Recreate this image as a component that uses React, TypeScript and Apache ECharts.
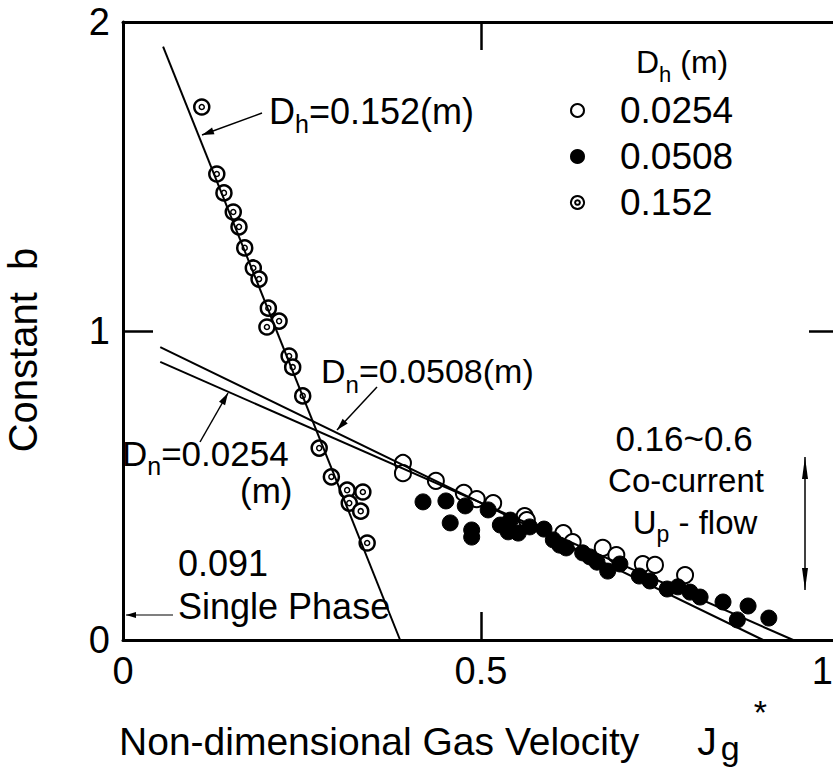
import React, { useEffect, useRef } from "react";
import * as echarts from "echarts";

// ---------- data ----------
const seriesNames = ["0.0254", "0.0508", "0.152"];

// Dh = 0.0254 m (open circles): [Jg*, b]
const open0254: [number, number][] = [
  [0.391, 0.573], [0.391, 0.540], [0.437, 0.515], [0.476, 0.476], [0.494, 0.456],
  [0.517, 0.443], [0.561, 0.401], [0.564, 0.388], [0.615, 0.346], [0.628, 0.317],
  [0.670, 0.298], [0.689, 0.275], [0.726, 0.246], [0.743, 0.243], [0.785, 0.210],
];

// Dh = 0.0508 m (filled circles)
const filled0508: [number, number][] = [
  [0.419, 0.447], [0.451, 0.450], [0.478, 0.434], [0.510, 0.421], [0.457, 0.379],
  [0.487, 0.356], [0.487, 0.333], [0.527, 0.372], [0.541, 0.388], [0.538, 0.350],
  [0.552, 0.346], [0.568, 0.366], [0.588, 0.359], [0.601, 0.324], [0.610, 0.307],
  [0.619, 0.298], [0.642, 0.282], [0.652, 0.269], [0.662, 0.252], [0.677, 0.223],
  [0.694, 0.246], [0.721, 0.207], [0.736, 0.191], [0.760, 0.165], [0.775, 0.172],
  [0.792, 0.155], [0.806, 0.139], [0.838, 0.123], [0.858, 0.065], [0.873, 0.110],
  [0.902, 0.071],
];

// Dh = 0.152 m (double circles)
const ring152: [number, number][] = [
  [0.110, 1.725], [0.131, 1.508], [0.141, 1.447], [0.154, 1.385], [0.162, 1.337],
  [0.170, 1.269], [0.182, 1.204], [0.190, 1.168], [0.203, 1.074], [0.218, 1.032],
  [0.201, 1.013], [0.232, 0.919], [0.237, 0.883], [0.251, 0.790], [0.274, 0.621],
  [0.291, 0.528], [0.313, 0.485], [0.335, 0.479], [0.316, 0.443], [0.332, 0.417],
  [0.341, 0.314],
];

// fitted lines (end points)
const line0254: [number, number][] = [[0.052, 0.900], [0.936, 0.0]];
const line0508: [number, number][] = [[0.052, 0.948], [0.894, 0.0]];
const line152: [number, number][] = [[0.056, 1.920], [0.387, 0.0]];

const xTickLabels = ["0", "0.5", "1"];
const yTickLabels = ["0", "1", "2"];

// ---------- styling ----------
const FONT = "'Liberation Sans', Arial, Helvetica, sans-serif";
const BLACK = "#000";

const DOUBLE_RING =
  "path://M12,1A11,11 0 1,1 11.99,1Z M12,8A4,4 0 1,1 11.99,8Z";

function arrowHead(x1: number, y1: number, x2: number, y2: number, len = 12, half = 3.5) {
  const dx = x2 - x1, dy = y2 - y1;
  const L = Math.hypot(dx, dy);
  const ux = dx / L, uy = dy / L;
  const bx = x2 - ux * len, by = y2 - uy * len;
  return [[x2, y2], [bx - uy * half, by + ux * half], [bx + uy * half, by - ux * half]];
}

function arrow(x1: number, y1: number, x2: number, y2: number, width = 1.5, len = 12, half = 3.5, both = false) {
  const els: any[] = [
    { type: "line", shape: { x1, y1, x2, y2 }, style: { stroke: BLACK, lineWidth: width }, silent: true },
    { type: "polygon", shape: { points: arrowHead(x1, y1, x2, y2, len, half) }, style: { fill: BLACK }, silent: true },
  ];
  if (both) {
    els.push({ type: "polygon", shape: { points: arrowHead(x2, y2, x1, y1, len, half) }, style: { fill: BLACK }, silent: true });
  }
  return els;
}

function label(text: string, x: number, y: number, fontSize: number, align = "left", subPad = 26) {
  return {
    type: "text",
    x,
    y,
    silent: true,
    style: {
      text,
      fill: BLACK,
      fontSize,
      fontFamily: FONT,
      align,
      verticalAlign: "middle",
      rich: {
        s: { fontSize: Math.round(fontSize * 0.7), fontFamily: FONT, fill: BLACK, padding: [subPad, 0, 0, 0] },
      },
    },
  };
}

export default function App() {
  const ref = useRef<HTMLDivElement>(null);

  useEffect(() => {
    if (!ref.current) return;
    const chart = echarts.init(ref.current, undefined, { renderer: "svg" });

    const axisLineStyle = { color: BLACK, width: 3 };
    const tickStyle = { color: BLACK, width: 2.5 };

    const option: any = {
      animation: false,
      backgroundColor: "#fff",
      textStyle: { fontFamily: FONT },
      grid: { left: 123, top: 22, width: 716, height: 618, outerBoundsMode: "none", containLabel: false },
      xAxis: [
        {
          type: "value",
          min: 0,
          max: 1,
          interval: 0.5,
          position: "bottom",
          axisLine: { show: true, onZero: false, lineStyle: axisLineStyle },
          axisTick: { show: true, inside: true, length: 28, lineStyle: tickStyle },
          splitLine: { show: false },
          axisLabel: {
            fontSize: 38,
            color: BLACK,
            fontFamily: FONT,
            margin: 12,
            alignMaxLabel: "right",
            formatter: (v: number) => {
              const i = Math.round(v / 0.5);
              const t = xTickLabels[i] ?? "";
              return i === xTickLabels.length - 1 ? `{edge|${t}}` : t;
            },
            rich: {
              edge: { fontSize: 38, color: BLACK, fontFamily: FONT, padding: [0, 6, 0, 0] },
            },
          },
          name: "Non-dimensional Gas Velocity{j|J}{sub|g}{sup|*}",
          nameLocation: "middle",
          nameGap: 52,
          nameTextStyle: {
            fontSize: 39,
            color: BLACK,
            fontFamily: FONT,
            lineHeight: 44,
            padding: [0, 76, 0, 0],
            rich: {
              j: { fontSize: 39, fontFamily: FONT, color: BLACK, lineHeight: 44, padding: [0, 0, 0, 58] },
              sub: { fontSize: 34, fontFamily: FONT, color: BLACK, lineHeight: 40, padding: [12, 0, 0, 4] },
              sup: { fontSize: 34, fontFamily: FONT, color: BLACK, lineHeight: 40, padding: [0, 0, 60, 14] },
            },
          },
        },
        {
          type: "value",
          min: 0,
          max: 1,
          interval: 0.5,
          position: "top",
          axisLine: { show: true, onZero: false, lineStyle: axisLineStyle },
          axisTick: { show: true, inside: true, length: 28, lineStyle: tickStyle },
          splitLine: { show: false },
          axisLabel: { show: false },
        },
      ],
      yAxis: [
        {
          type: "value",
          min: 0,
          max: 2,
          interval: 1,
          position: "left",
          axisLine: { show: true, onZero: false, lineStyle: axisLineStyle },
          axisTick: { show: true, inside: true, length: 30, lineStyle: tickStyle },
          splitLine: { show: false },
          axisLabel: {
            fontSize: 38,
            color: BLACK,
            fontFamily: FONT,
            margin: 13,
            formatter: (v: number) => yTickLabels[Math.round(v)] ?? "",
          },
          name: "Constant  b",
          nameLocation: "middle",
          nameGap: 80,
          nameTextStyle: {
            fontSize: 40,
            color: BLACK,
            fontFamily: FONT,
            padding: [0, 38, 0, 0],
          },
        },
        {
          type: "value",
          min: 0,
          max: 2,
          interval: 1,
          position: "right",
          axisLine: { show: true, onZero: false, lineStyle: axisLineStyle },
          axisTick: { show: true, inside: true, length: 30, lineStyle: tickStyle },
          splitLine: { show: false },
          axisLabel: { show: false },
        },
      ],
      legend: {
        orient: "vertical",
        left: 570,
        top: 92,
        padding: 0,
        itemWidth: 13,
        itemHeight: 13,
        itemGap: 9,
        textStyle: { fontSize: 37, color: BLACK, fontFamily: FONT, padding: [0, 0, 0, 31] },
        data: [
          { name: seriesNames[0], icon: "circle" },
          { name: seriesNames[1], icon: "circle" },
          { name: seriesNames[2], icon: DOUBLE_RING },
        ],
      },
      graphic: [
        label("D{s|h}=0.152(m)", 269, 111, 36),
        ...arrow(262, 113, 202, 135),
        label("D{s|n}=0.0508(m)", 321, 371, 34),
        ...arrow(377, 387, 337, 430),
        label("D{s|n}=0.0254", 122, 453, 35),
        label("(m)", 240, 490, 35),
        ...arrow(200, 442, 228, 393),
        label("0.091", 178, 563, 36),
        label("Single Phase", 178, 606, 36),
        ...arrow(173, 615, 126, 615, 1.2, 10, 3),
        label("0.16~0.6", 684, 438, 35, "center"),
        label("Co-current", 686, 480, 33, "center"),
        label("U{s|p} - flow", 695, 522, 33, "center", 24),
        ...arrow(805, 590, 805, 457, 1.5, 22, 3, true),
        label("D{s|h} (m)", 636, 62, 32, "left", 24),
      ],
      series: [
        {
          name: "line 0.0254",
          type: "line",
          data: line0254,
          showSymbol: false,
          silent: true,
          lineStyle: { color: BLACK, width: 2 },
        },
        {
          name: "line 0.0508",
          type: "line",
          data: line0508,
          showSymbol: false,
          silent: true,
          lineStyle: { color: BLACK, width: 2 },
        },
        {
          name: "line 0.152",
          type: "line",
          data: line152,
          showSymbol: false,
          silent: true,
          lineStyle: { color: BLACK, width: 2 },
        },
        {
          name: seriesNames[0],
          type: "scatter",
          data: open0254,
          symbol: "circle",
          symbolSize: 16,
          itemStyle: { color: "#fff", borderColor: BLACK, borderWidth: 2, opacity: 1 },
        },
        {
          name: seriesNames[1],
          type: "scatter",
          data: filled0508,
          symbol: "circle",
          symbolSize: 16,
          itemStyle: { color: BLACK, borderColor: BLACK, borderWidth: 1, opacity: 1 },
        },
        {
          name: seriesNames[2],
          type: "scatter",
          data: ring152,
          symbol: "circle",
          symbolSize: 15,
          itemStyle: { color: "#fff", borderColor: BLACK, borderWidth: 2.5, opacity: 1 },
        },
        {
          name: "0.152 inner",
          type: "scatter",
          data: ring152,
          symbol: "circle",
          symbolSize: 5,
          itemStyle: { color: "#fff", borderColor: BLACK, borderWidth: 1.5, opacity: 1 },
        },
      ],
    };

    chart.setOption(option);
    return () => chart.dispose();
  }, []);

  return (
    <div
      ref={ref}
      style={{ position: "absolute", left: 0, top: 0, width: 833, height: 771, background: "#fff" }}
    />
  );
}
